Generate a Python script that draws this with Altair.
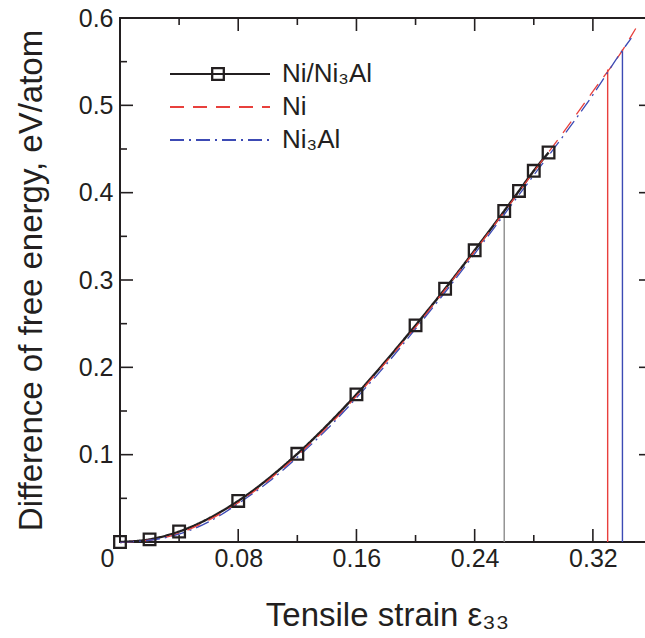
import altair as alt
import pandas as pd

SERIES = ["Ni/Ni₃Al", "Ni", "Ni₃Al"]

# Ni/Ni3Al interface (solid line with square markers)
niall_x = [0.0, 0.02, 0.04, 0.08, 0.12, 0.16, 0.20, 0.22, 0.24, 0.26, 0.27, 0.28, 0.29]
niall_y = [0.0, 0.003, 0.012, 0.047, 0.101, 0.169, 0.248, 0.290, 0.334, 0.379, 0.402, 0.425, 0.446]

# Ni (red dashed)
ni_x = [0.0, 0.02, 0.04, 0.06, 0.08, 0.10, 0.12, 0.14, 0.16, 0.18, 0.20, 0.22, 0.24, 0.26, 0.28, 0.30, 0.32, 0.34, 0.349]
ni_y = [0.0, 0.002, 0.010, 0.025, 0.045, 0.070, 0.099, 0.131, 0.167, 0.206, 0.246, 0.289, 0.333, 0.378, 0.424, 0.469, 0.516, 0.563, 0.588]

# Ni3Al (blue dash-dot)
ni3al_x = [0.0, 0.02, 0.04, 0.06, 0.08, 0.10, 0.12, 0.14, 0.16, 0.18, 0.20, 0.22, 0.24, 0.26, 0.28, 0.30, 0.32, 0.34, 0.346]
ni3al_y = [0.0, 0.002, 0.009, 0.023, 0.044, 0.068, 0.097, 0.129, 0.165, 0.203, 0.244, 0.286, 0.330, 0.375, 0.420, 0.465, 0.512, 0.563, 0.577]

# critical strains (vertical lines)
crit_series = ["Ni/Ni₃Al", "Ni", "Ni₃Al"]
crit_x = [0.26, 0.33, 0.34]
crit_y = [0.379, 0.541, 0.564]

x_major = [0.0, 0.08, 0.16, 0.24, 0.32]
x_minor = [0.04, 0.12, 0.20, 0.28]
y_major = [0.0, 0.1, 0.2, 0.3, 0.4, 0.5, 0.6]
y_minor = [0.05, 0.15, 0.25, 0.35, 0.45, 0.55]
X_MAX, Y_MAX = 0.36, 0.6

W, H = 532, 524
FONT = "Liberation Sans"
INK = "#231f20"
RED = "#e8403c"
BLUE = "#3c4ab4"
GRAY = "#8c8c8c"

curves = pd.concat([
    pd.DataFrame({"x": niall_x, "y": niall_y, "series": SERIES[0]}),
    pd.DataFrame({"x": ni_x, "y": ni_y, "series": SERIES[1]}),
    pd.DataFrame({"x": ni3al_x, "y": ni3al_y, "series": SERIES[2]}),
], ignore_index=True)
markers = pd.DataFrame({"x": niall_x, "y": niall_y, "series": SERIES[0]})
crit = pd.DataFrame({"x": crit_x, "y": crit_y, "series": crit_series})

x_axis = alt.Axis(
    values=x_major,
    labelExpr="datum.value == 0 ? '0' : format(datum.value, '.2f')",
    ticks=False, domain=False, grid=False,
    labelOffset={"condition": {"test": "datum.value == 0", "value": -13}, "value": 0},
    labelFont=FONT, labelFontSize=25, labelColor=INK, labelPadding=4,
    labelBaseline="top", labelFlush=False, labelOverlap=False,
    title="Tensile strain ε₃₃", titleFont=FONT, titleFontSize=33, titleFontWeight="normal",
    titleColor=INK, titleX=267, titleY=83, titleAlign="center", titleBaseline="alphabetic",
)
y_axis = alt.Axis(
    values=y_major,
    labelExpr="datum.value > 0 ? format(datum.value, '.1f') : ''",
    ticks=False, domain=False, grid=False,
    labelFont=FONT, labelFontSize=25, labelColor=INK, labelPadding=7,
    labelFlush=False, labelOverlap=False,
    title="Difference of free energy, eV/atom", titleFont=FONT, titleFontSize=33,
    titleFontWeight="normal", titleColor=INK, titleX=-79, titleY=H / 2, titleAngle=270,
    titleAlign="center", titleBaseline="alphabetic",
)

xs = alt.Scale(domain=[0, X_MAX], nice=False, zero=False)
ys = alt.Scale(domain=[0, Y_MAX], nice=False, zero=False)

legend_lines = alt.Legend(
    title=None, orient="none", legendX=87, legendY=43, padding=0,
    symbolType="M-5,0H5", symbolSize=400, symbolStrokeWidth=1.8,
    labelFont=FONT, labelFontSize=26, labelColor=INK, labelOffset=49,
    labelLimit=400, rowPadding=7,
)

rules = alt.Chart(crit).mark_rule(strokeWidth=1.4).encode(
    x=alt.X("x:Q", scale=xs, axis=x_axis),
    y=alt.Y("y:Q", scale=ys, axis=y_axis),
    y2=alt.datum(0),
    stroke={"condition": [{"test": "datum.series == 'Ni'", "value": RED},
                          {"test": "datum.series == 'Ni₃Al'", "value": BLUE}],
            "value": GRAY},
)

lines = alt.Chart(curves).mark_line(interpolate="monotone").encode(
    x=alt.X("x:Q", scale=xs, axis=x_axis),
    y=alt.Y("y:Q", scale=ys, axis=y_axis),
    stroke=alt.Stroke("series:N", scale=alt.Scale(domain=SERIES, range=[INK, RED, BLUE]),
                      legend=legend_lines),
    strokeDash=alt.StrokeDash("series:N",
                              scale=alt.Scale(domain=SERIES, range=[[1, 0], [14, 9], [14, 5, 2, 5]]),
                              legend=legend_lines),
    strokeWidth=alt.condition(alt.datum.series == SERIES[0], alt.value(2.4), alt.value(1.3)),
    order=alt.Order("x:Q"),
)

points = alt.Chart(markers).mark_point(
    shape="square", filled=False, size=135, strokeWidth=2.3, color=INK, opacity=1
).encode(
    x=alt.X("x:Q", scale=xs, axis=x_axis),
    y=alt.Y("y:Q", scale=ys, axis=y_axis),
    shape=alt.Shape("series:N", scale=alt.Scale(range=["square"]),
                    legend=alt.Legend(title=None, orient="none", legendX=85, legendY=43, padding=0,
                                      symbolSize=135, symbolStrokeWidth=2.3, symbolStrokeColor=INK,
                                      labelExpr="''", labelFontSize=26, zindex=2)),
)


# tick marks centred on each frame edge and clipped to the plot area, so only the
# inward half shows (major ticks twice as long as minor ones)
def edge_ticks(values, edge, along_x, size):
    if along_x:
        df = pd.DataFrame({"x": values, "y": [edge] * len(values)})
        orient = "vertical"
    else:
        df = pd.DataFrame({"x": [edge] * len(values), "y": values})
        orient = "horizontal"
    return alt.Chart(df).mark_tick(
        orient=orient, size=size, thickness=1.6, color=INK, opacity=1, clip=True
    ).encode(
        x=alt.X("x:Q", scale=xs, axis=x_axis),
        y=alt.Y("y:Q", scale=ys, axis=y_axis),
    )


tick_layers = [
    edge_ticks(x_major, 0.0, True, 26), edge_ticks(x_minor, 0.0, True, 14),
    edge_ticks(x_major, Y_MAX, True, 26), edge_ticks(x_minor, Y_MAX, True, 14),
    edge_ticks(y_major, 0.0, False, 26), edge_ticks(y_minor, 0.0, False, 14),
    edge_ticks(y_major, X_MAX, False, 26), edge_ticks(y_minor, X_MAX, False, 14),
]

chart = alt.layer(rules, lines, points, *tick_layers).properties(
    width=W, height=H,
    autosize=alt.AutoSizeParams(type="none"),
    padding={"left": 120, "top": 18, "right": -7, "bottom": 94},
    background="white",
).configure_view(stroke=INK, strokeWidth=2)

chart.save("out.html", embed_options={"renderer": "svg", "actions": False})
